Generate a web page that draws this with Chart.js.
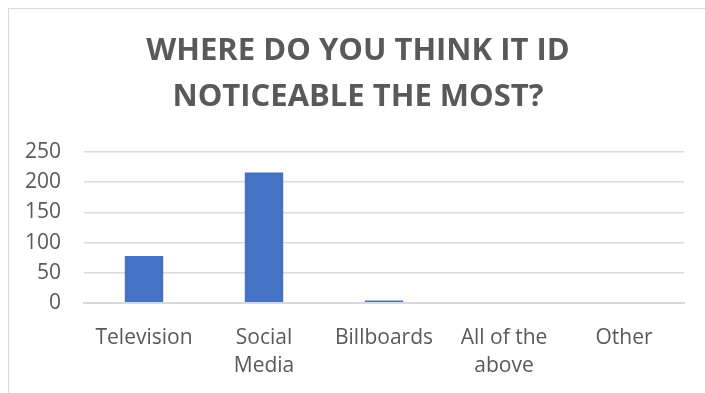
<!DOCTYPE html>
<html>
<head>
<meta charset="utf-8">
<script src="https://cdn.jsdelivr.net/npm/chart.js@4.4.1/dist/chart.umd.min.js"></script>
<style>
    html, body { margin: 0; padding: 0; background: #ffffff; }
    #wrap { position: relative; width: 705px; height: 393px; overflow: hidden; }
    #frame { position: absolute; left: 8px; top: 8px; width: 720px; height: 400px; border: 1px solid #d9d9d9; pointer-events: none; }
    #chart { position: absolute; left: 0; top: 0; }
</style>
</head>
<body>
<div id="wrap">
    <div id="frame"></div>
    <canvas id="chart" width="705" height="393"></canvas>
</div>
<script>
const categories = [["Television"], ["Social", "Media"], ["Billboards"], ["All of the", "above"], ["Other"]];
const responses = [78, 216, 4, 0, 0];
const yTicks = [0, 50, 100, 150, 200, 250];
const titleLines = ["WHERE DO YOU THINK IT ID", "NOTICEABLE THE MOST?"];

const textColor = "#595959";
const gridColor = "#d9d9d9";

// the title is centred over the whole frame, not the canvas, so nudge its box
const titleShift = {
    id: 'titleShift',
    afterLayout: function(chart){
        if(chart.titleBlock){
            chart.titleBlock.left = 32;
        }
    }
};

function createChart(){
    const ctx = document.getElementById("chart");
    const data = {
        labels: categories,
        datasets: [{
            label: "Responses",
            data: responses,
            backgroundColor: "#4472c4",
            borderWidth: 0,
            categoryPercentage: 1.0,
            barPercentage: 0.32
        }]
    };
    const config = {
        type: 'bar',
        data: data,
        plugins: [titleShift],
        options: {
            responsive: false,
            animation: false,
            layout: {
                padding: { left: 0, right: 21, top: 0, bottom: 0 }
            },
            plugins: {
                legend: { display: false },
                tooltip: { enabled: false },
                title: {
                    display: true,
                    text: titleLines,
                    color: textColor,
                    font: { family: "'Open Sans', sans-serif", size: 31, weight: 'bold', lineHeight: 1.484 },
                    padding: { top: 28, bottom: 32 }
                }
            },
            scales: {
                y: {
                    min: 0,
                    max: 250,
                    afterBuildTicks: function(scale){
                        scale.ticks = yTicks.map(v => ({ value: v }));
                    },
                    afterFit: function(scale){
                        scale.width = 84;
                    },
                    ticks: {
                        color: textColor,
                        padding: 23,
                        font: { family: "'Open Sans', sans-serif", size: 21 }
                    },
                    grid: {
                        color: gridColor,
                        lineWidth: function(c){ return c.tick && c.tick.value === 0 ? 2 : 1.5; },
                        drawTicks: false
                    },
                    border: { display: false }
                },
                x: {
                    afterFit: function(scale){
                        scale.height = 90;
                    },
                    ticks: {
                        color: textColor,
                        padding: 21,
                        maxRotation: 0,
                        autoSkip: false,
                        font: { family: "'Open Sans', sans-serif", size: 21, lineHeight: 1.33 }
                    },
                    grid: { display: false, drawTicks: false },
                    border: { display: true, color: gridColor, width: 2 }
                }
            }
        }
    };
    return new Chart(ctx, config);
}

createChart();
</script>
</body>
</html>
